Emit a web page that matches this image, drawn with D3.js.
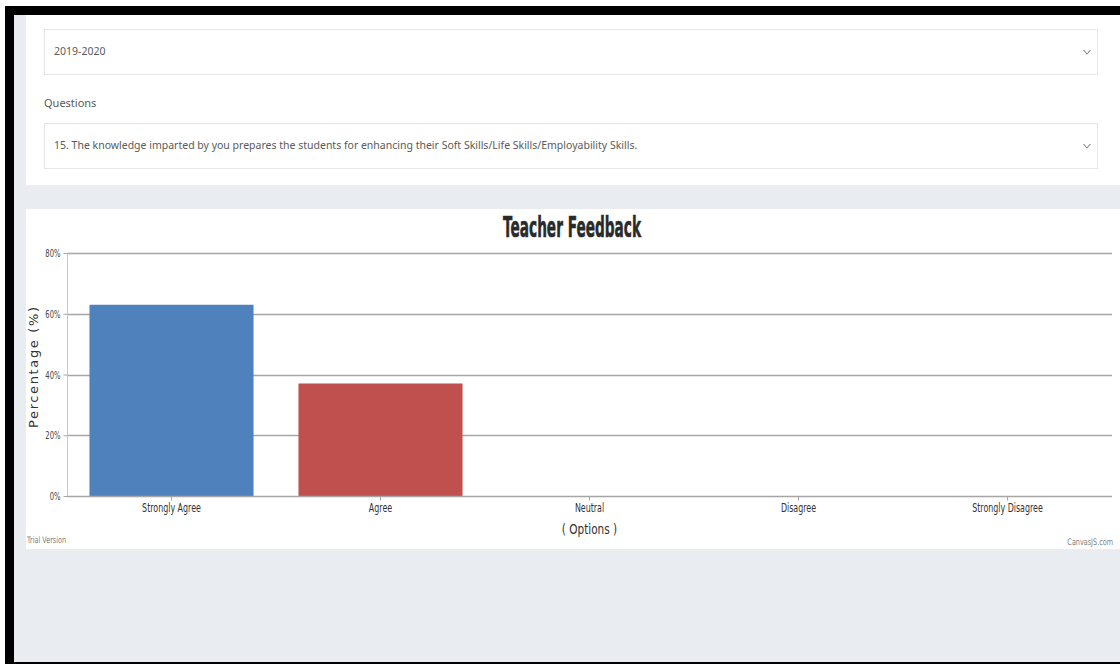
<!DOCTYPE html>
<html>
<head>
<meta charset="utf-8">
<script src="https://cdn.jsdelivr.net/npm/d3@7"></script>
<style>
  html, body { margin: 0; padding: 0; background: #fff; }
  svg { display: block; }
</style>
</head>
<body>
<svg id="page" width="1120" height="664"></svg>
<script>
// ---- data ----
const sessionLabel = "2019-2020";
const questionsLabel = "Questions";
const questionText = "15. The knowledge imparted by you prepares the students for enhancing their Soft Skills/Life Skills/Employability Skills.";
const chartTitle = "Teacher Feedback";
const categories = ["Strongly Agree", "Agree", "Neutral", "Disagree", "Strongly Disagree"];
const percentages = [62.96, 37.04, 0, 0, 0];
const barColors = ["#4f81bc", "#c0504e", "#9bbb58", "#23bfaa", "#8064a1"];
const yTickValues = [0, 20, 40, 60, 80];
const yAxisTitle = "Percentage (%)";
const xAxisTitle = "( Options )";

const svg = d3.select("#page");
const uiFont = "'Noto Sans', 'Open Sans', sans-serif";
const narrowFont = "'DejaVu Sans', sans-serif";

// squeeze a text horizontally to mimic a condensed face
function condense(sel, factor) {
  sel.each(function () {
    const w = this.getComputedTextLength();
    d3.select(this).attr("textLength", w * factor).attr("lengthAdjust", "spacingAndGlyphs");
  });
}

// ---- page frame ----
svg.append("rect").attr("x", 0).attr("y", 0).attr("width", 1120).attr("height", 664).attr("fill", "#ffffff");
svg.append("rect").attr("x", 14).attr("y", 15).attr("width", 1106).attr("height", 647).attr("fill", "#e9ecf1");
svg.append("rect").attr("x", 5).attr("y", 6).attr("width", 1115).attr("height", 9).attr("fill", "#000");
svg.append("rect").attr("x", 5).attr("y", 6).attr("width", 9).attr("height", 658).attr("fill", "#000");
svg.append("rect").attr("x", 5).attr("y", 662).attr("width", 1115).attr("height", 2).attr("fill", "#000");

// ---- top form card ----
svg.append("rect").attr("x", 26).attr("y", 15).attr("width", 1094).attr("height", 170).attr("fill", "#fff");
const boxes = [
  {y: 29, text: sessionLabel},
  {y: 123, text: questionText}
];
boxes.forEach(b => {
  svg.append("rect").attr("x", 44.5).attr("y", b.y + 0.5).attr("width", 1053).attr("height", 45)
    .attr("fill", "#fff").attr("stroke", "#e6e6e6");
  svg.append("text").attr("x", 54).attr("y", b.y + 26).attr("font-family", uiFont)
    .attr("font-size", 10.5).attr("fill", "#5a5a5a").text(b.text);
  const cx = 1087, cy = b.y + 23;
  svg.append("path").attr("d", `M${cx - 3.5},${cy - 2} L${cx},${cy + 2} L${cx + 3.5},${cy - 2}`)
    .attr("fill", "none").attr("stroke", "#888").attr("stroke-width", 1.1);
});
svg.append("text").attr("x", 44).attr("y", 107).attr("font-family", uiFont)
  .attr("font-size", 11).attr("fill", "#5a5a5a").text(questionsLabel);

// ---- chart card ----
svg.append("rect").attr("x", 26).attr("y", 209).attr("width", 1094).attr("height", 340).attr("fill", "#fff");

const x = d3.scaleBand().domain(categories).range([67, 1112]).paddingInner(0.215).paddingOuter(0.1075);
const y = d3.scaleLinear().domain([0, 80]).range([496, 253]);

// gridlines
svg.append("g").selectAll("line").data(yTickValues.filter(v => v > 0)).join("line")
  .attr("x1", 67).attr("x2", 1112)
  .attr("y1", d => Math.round(y(d)) + 0.5).attr("y2", d => Math.round(y(d)) + 0.5)
  .attr("stroke", "#a6a6a6").attr("stroke-width", 1.3);

// bars
svg.append("g").selectAll("rect").data(categories).join("rect")
  .attr("x", d => x(d)).attr("width", x.bandwidth())
  .attr("y", (d, i) => y(percentages[i]))
  .attr("height", (d, i) => y(0) - y(percentages[i]))
  .attr("fill", (d, i) => barColors[i]);

// y axis
const yAxis = d3.axisLeft(y).tickValues(yTickValues).tickFormat(d => d + "%").tickSize(4).tickPadding(3);
const gy = svg.append("g").attr("transform", "translate(67.5,0)").call(yAxis);
gy.select(".domain").attr("stroke", "#c8c8c8").attr("d", `M0,${y(80)}V${y(0)}`);
gy.selectAll(".tick line").attr("stroke", "#a6a6a6");
gy.selectAll(".tick text").attr("font-family", narrowFont).attr("font-size", 11).attr("fill", "#444")
  .call(condense, 0.62);

// x axis
const xAxis = d3.axisBottom(x).tickSize(4).tickPadding(3);
const gx = svg.append("g").attr("transform", `translate(0,${Math.round(y(0)) + 0.5})`).call(xAxis);
gx.select(".domain").attr("stroke", "#a6a6a6").attr("stroke-width", 1.3).attr("d", "M67,0H1112");
gx.selectAll(".tick line").attr("stroke", "#a6a6a6");
gx.selectAll(".tick text").attr("font-family", narrowFont).attr("font-size", 12).attr("fill", "#333")
  .call(condense, 0.66);

// titles
svg.append("text").attr("x", 572).attr("y", 237).attr("text-anchor", "middle")
  .attr("font-family", "'DejaVu Sans', sans-serif")
  .attr("font-weight", "bold").attr("font-size", 29).attr("fill", "#2a2a2a")
  .attr("stroke", "#2a2a2a").attr("stroke-width", 0.6)
  .attr("textLength", 138).attr("lengthAdjust", "spacingAndGlyphs").text(chartTitle);

svg.append("text").attr("transform", `translate(38,${(y(0) + y(80)) / 2 - 7}) rotate(-90)`)
  .attr("text-anchor", "middle").attr("font-family", "'DejaVu Sans', sans-serif")
  .attr("font-size", 13).attr("fill", "#333")
  .attr("textLength", 121).attr("lengthAdjust", "spacing").text(yAxisTitle);

svg.append("text").attr("x", x("Neutral") + x.bandwidth() / 2).attr("y", 534).attr("text-anchor", "middle")
  .attr("font-family", narrowFont).attr("font-size", 14).attr("fill", "#333").text(xAxisTitle)
  .call(condense, 0.75);

// credits (condensed with a transform so the box matches the drawn glyphs)
svg.append("text").attr("transform", "translate(27,543) scale(0.72,1)").attr("font-family", narrowFont)
  .attr("font-size", 9).attr("fill", "#808080").text("Trial Version");
svg.append("text").attr("transform", "translate(1113,545) scale(0.72,1)").attr("text-anchor", "end")
  .attr("font-family", narrowFont).attr("font-size", 9).attr("fill", "#808080").text("CanvasJS.com");
</script>
</body>
</html>
